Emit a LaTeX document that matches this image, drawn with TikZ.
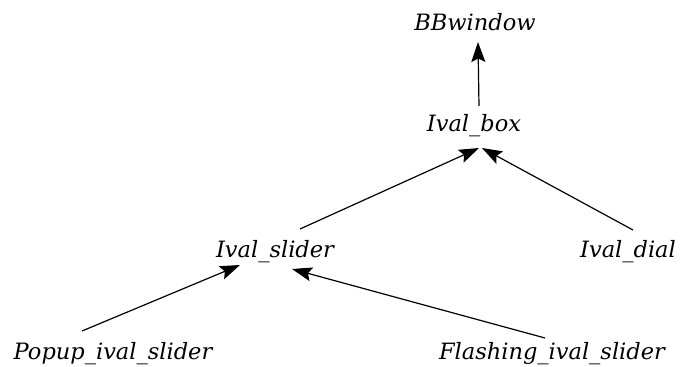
\documentclass[tikz,border=0pt]{standalone}
\usepackage{fontspec}
\setmainfont{DejaVu Serif}
\usepackage{tikz}
\usetikzlibrary{arrows.meta}
\usetikzlibrary{calc}

\begin{document}
\begin{tikzpicture}[x=1pt,y=-1pt,
    cls/.style={anchor=base,inner sep=0pt,font=\fontsize{22.5}{26}\selectfont\itshape},
    inh/.style={line width=1.2pt,-{Stealth[length=20pt,width=14pt,inset=3.5pt]}}]
    \useasboundingbox (0,0) rectangle (681,367);
    \node[cls] (bbwin) at (475,30) {BBwindow};
    \node[cls] (box) at (474,131) {Ival\_box};
    \node[cls] (slider) at (275,257) {Ival\_slider};
    \node[cls] (dial) at (628,257) {Ival\_dial};
    \node[cls] (popup) at (113,359) {Popup\_ival\_slider};
    \node[cls] (flash) at (552,359) {Flashing\_ival\_slider};
    %
    \draw[inh] ($(box.base)+(5,-25)$) -- ($(bbwin.base)+(3,12)$);
    \draw[inh] ($(slider.base)+(25,-28)$) -- ($(box.base)+(5,17)$);
    \draw[inh] ($(dial.base)+(5,-27)$) -- ($(box.base)+(8,17)$);
    \draw[inh] ($(popup.base)+(-31,-28)$) -- ($(slider.base)+(-35,8)$);
    \draw[inh] ($(flash.base)+(-7,-21)$) -- ($(slider.base)+(17,12)$);
  \end{tikzpicture}
\end{document}
